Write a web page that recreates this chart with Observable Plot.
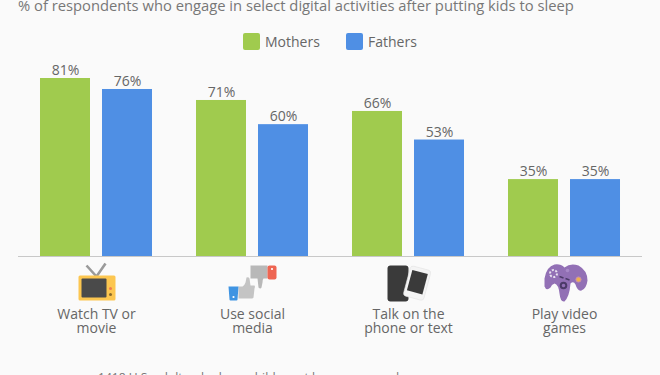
<!DOCTYPE html>
<html>
<head>
<meta charset="utf-8">
<script src="https://cdn.jsdelivr.net/npm/d3@7"></script>
<script src="https://cdn.jsdelivr.net/npm/@observablehq/plot@0.6"></script>
<style>
html,body{margin:0;padding:0;width:660px;height:375px;overflow:hidden;background:#fafafa;font-family:"Open Sans",sans-serif;color:#666}
#sub{position:absolute;left:18px;top:-6px;font-size:14.76px;line-height:22px;white-space:nowrap;color:#777}
#legend{position:absolute;left:0;top:33px;height:17px;font-size:14px;line-height:17px;color:#666}
#legend i{position:absolute;top:0;width:17px;height:17px;border-radius:2px}
#legend span{position:absolute;top:0;white-space:nowrap}
#chart{position:absolute;left:0;top:56px}
#foot{position:absolute;left:98px;top:370px;font-size:12.1px;line-height:16px;white-space:nowrap;color:#777}
</style>
</head>
<body>
<div id="sub"></div>
<div id="legend"></div>
<div id="chart"></div>
<div id="foot"></div>
<script>
const subtitle = "% of respondents who engage in select digital activities after putting kids to sleep";
const footnote = "1418 U.S. adults who have children at home surveyed";
const categories = ["Watch TV or\nmovie", "Use social\nmedia", "Talk on the\nphone or text", "Play video\ngames"];
const mothers = [81, 71, 66, 35];
const fathers = [76, 60, 53, 35];
const seriesNames = ["Mothers", "Fathers"];
const seriesColors = ["#a0cb4e", "#4f8fe4"];

const wrap = s => "data:image/svg+xml," + encodeURIComponent(`<svg xmlns="http://www.w3.org/2000/svg" width="60" height="50" viewBox="0 0 60 50">${s}</svg>`);
const icons = [
  wrap(`<path d="M20 7l10 11 9-13" fill="none" stroke="#9a9a9a" stroke-width="2.6"/>
    <rect x="12" y="17" width="37" height="25" rx="1.5" fill="#fcc650"/>
    <rect x="15" y="20" width="25" height="19" rx="1" fill="#4a4a4a"/>
    <circle cx="44" cy="30" r="1.5" fill="#ef7b52"/><circle cx="44" cy="36" r="1.5" fill="#8a6a2a"/>`),
  wrap(`<path d="M28 7h17v13h-4q-1 1-1 4l-1 5q-1 2-3 0l-1-9h-7z" fill="#b8b8b8"/>
    <rect x="45" y="7" width="9" height="14" rx="2" fill="#ee6552"/><circle cx="49.5" cy="10.500" r="1.100" fill="#fff"/>
    <path d="M16 28h4q2-1 3-4l1-5q2-1 3 1l1 7h4q1 1 0 3l-1 9q0 1-2 1h-13z" fill="#c4c4c4"/>
    <path d="M6 28h10l-1 13q0 1-1 1h-6q-1 0-1-1z" fill="#3f94e2"/><circle cx="11" cy="38.500" r="1.100" fill="#fff"/>`),
  wrap(`<rect x="9" y="7" width="21" height="36" rx="3" fill="#3a3a3a"/>
    <g transform="rotate(15 38 25)"><rect x="28" y="9" width="21" height="31" rx="3" fill="#f4f4f4" stroke="#e4e4e4" stroke-width=".6"/><rect x="30.500" y="13" width="16" height="21" fill="#3a3a3a"/></g>`),
  wrap(`<path d="M10 20Q12 8 20 6Q26 5 30 9Q36 4 44 7Q53 12 53 22Q52 30 47 32Q43 33 41 26Q39 22 36 25Q35 38 30 43Q26 44 25 35Q24 26 20 25Q17 26 16 29Q12 33 10 28Z" fill="#9270b5"/>
    <circle cx="19" cy="15" r="3.500" fill="none" stroke="#e9e2f0" stroke-width="2" stroke-dasharray="2 1.600"/>
    <circle cx="33" cy="12" r="1.800" fill="#a889c8"/>
    <path d="M25 18l4 1.500M31 20l4 1.500" stroke="#4c3a68" stroke-width="1.500"/>
    <circle cx="44" cy="21" r="2.600" fill="#eeb24e" stroke="#c78fb0"/>
    <circle cx="29" cy="27" r="2.800" fill="none" stroke="#4c3a68" stroke-width="2"/>`)
];

d3.select("#sub").text(subtitle);
d3.select("#foot").text(footnote);
const leg = d3.select("#legend");
[[243, 265], [346, 368]].forEach(([sx, tx], i) => {
  leg.append("i").style("left", sx + "px").style("background", seriesColors[i]);
  leg.append("span").style("left", tx + "px").text(seriesNames[i]);
});

const rows = categories.flatMap((category, i) => [
  {category, series: seriesNames[0], value: mothers[i]},
  {category, series: seriesNames[1], value: fathers[i]}
]);
const iconRows = categories.map((category, i) => ({category, src: icons[i]}));
const font = {fontFamily: "Open Sans", fontSize: 14, fill: "#666"};

const plot = Plot.plot({
  width: 660,
  height: 300,
  marginTop: 22,
  marginBottom: 100,
  marginLeft: 18,
  marginRight: 18,
  style: {background: "transparent", fontFamily: "Open Sans", overflow: "visible"},
  fx: {domain: categories, axis: null, paddingInner: 0.282, paddingOuter: 0.141, label: null, round: false},
  x: {domain: seriesNames, axis: null, paddingInner: 0.1935, paddingOuter: 0, label: null, round: false},
  y: {domain: [0, 81], axis: null, label: null},
  color: {domain: seriesNames, range: seriesColors},
  marks: [
    Plot.barY(rows, {fx: "category", x: "series", y: "value", fill: "series"}),
    Plot.ruleY(iconRows, {fx: "category", y: () => 0, stroke: "#c8c8c8", strokeWidth: 1, insetLeft: -22, insetRight: -22}),
    Plot.text(rows, {fx: "category", x: "series", y: "value", text: d => d.value + "%", dy: -8, ...font}),
    Plot.image(iconRows, {fx: "category", y: () => 0, src: "src", width: 60, height: 50, dy: 27}),
    Plot.text(iconRows, {fx: "category", y: () => 0, text: "category", dy: 52, lineAnchor: "top", lineHeight: 1.02, ...font})
  ]
});
document.getElementById("chart").appendChild(plot);
</script>
</body>
</html>
